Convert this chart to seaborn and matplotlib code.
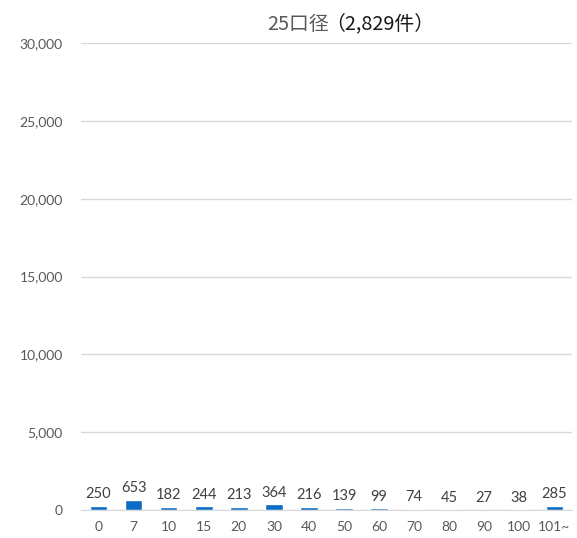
import pandas as pd
import numpy as np
import matplotlib.pyplot as plt
import seaborn as sns

# 25口径 data
categories = ["0", "7", "10", "15", "20", "30", "40", "50", "60", "70", "80", "90", "100", "101~"]
counts = [250, 653, 182, 244, 213, 364, 216, 139, 99, 74, 45, 27, 38, 285]
yticks = [0, 5000, 10000, 15000, 20000, 25000, 30000]

df = pd.DataFrame({"cat": categories, "count": counts})

sns.set_style("white")
plt.rcParams["font.family"] = ["Lato", "Noto Sans CJK JP", "DejaVu Sans"]

fig = plt.figure(figsize=(5.77, 5.38), dpi=100)
ax = fig.add_axes([81 / 577, 1 - 510 / 538, 491 / 577, (510 - 43) / 538])

sns.barplot(data=df, x="cat", y="count", color="#0A6CC4", width=0.5, saturation=1, ax=ax)

ax.set_ylim(0, 30000)
ax.set_yticks(yticks)
ax.set_yticklabels([f"{v:,}" for v in yticks])
ax.yaxis.grid(True, color="#D9D9D9", linewidth=1)
ax.set_axisbelow(True)
for s in ax.spines.values():
    s.set_visible(False)
ax.spines["bottom"].set_visible(True)
ax.spines["bottom"].set_color("#D9D9D9")
ax.tick_params(axis="both", length=0, labelsize=10, colors="#595959")
ax.tick_params(axis="x", pad=8)
ax.tick_params(axis="y", pad=13)
ax.set_xlabel("")
ax.set_ylabel("")

for i, v in enumerate(counts):
    ax.text(i, v + 300, str(v), ha="center", va="bottom", fontsize=10.5, color="#404040")

# title: grey part + black part
fig.text(0.570, 0.955, "25口径", ha="right", va="center", fontsize=14.3, color="#595959",
         family=["Noto Sans CJK JP", "DejaVu Sans"])
fig.text(0.563, 0.955, "（2,829件）", ha="left", va="center", fontsize=14.3, color="#1A1A1A",
         family=["Noto Sans CJK JP", "DejaVu Sans"])

fig.savefig("out.png", dpi=100)
